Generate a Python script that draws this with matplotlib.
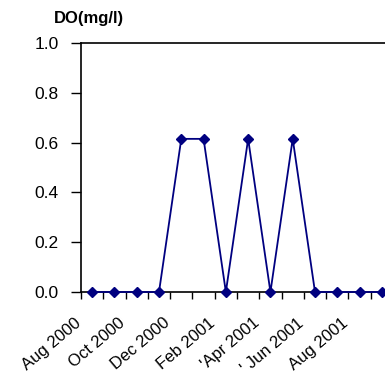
import matplotlib
matplotlib.use("Agg")
import matplotlib.pyplot as plt
import matplotlib.transforms as mtransforms
import numpy as np

plt.rcParams['font.family'] = ['Liberation Sans', 'DejaVu Sans']

values = [0, 0, 0, 0, 0.615, 0.615, 0, 0.615, 0, 0.615, 0, 0, 0, 0]
tick_labels = ["Aug 2000", "Oct 2000", "Dec 2000", "Feb 2001", "'Apr 2001", "' Jun 2001", "Aug 2001"]
y_ticks = [0.0, 0.2, 0.4, 0.6, 0.8, 1.0]

fig = plt.figure(figsize=(3.85, 3.75), dpi=100)
ax = fig.add_axes([81/385, 83/375, (393-81)/385, (292-43)/375])

x = np.arange(len(values)) + 0.5
ax.plot(x, values, color='#000080', lw=1.3, marker='D', markersize=5.5, clip_on=False, zorder=3)

ax.set_xlim(0, len(values))
ax.set_ylim(0, 1.0)
ax.set_xticks(np.arange(0, len(values) + 1))
ax.set_xticklabels([tick_labels[i // 2] if i % 2 == 0 and i // 2 < len(tick_labels) else '' for i in range(len(values) + 1)],
                   rotation=40, ha='right', va='top', rotation_mode='anchor', fontsize=12)
ax.set_yticks(y_ticks)
ax.set_yticklabels([f"{v:.1f}" for v in y_ticks], fontsize=12.5)
ax.tick_params(axis='y', direction='out', length=7, width=1, color='black', pad=9)
ax.tick_params(axis='x', direction='out', length=5, width=1, color='black', pad=11)
for s in ['left', 'bottom', 'top']:
    ax.spines[s].set_linewidth(1.2)
ax.spines['right'].set_visible(False)

offset = mtransforms.ScaledTranslation(-7/100, -1/100, fig.dpi_scale_trans)
for lab in ax.xaxis.get_majorticklabels():
    lab.set_transform(lab.get_transform() + offset)

fig.text(54/385, 1 - 19/375, "DO(mg/l)", fontsize=12, fontweight='bold', va='center', ha='left')

fig.savefig("out.png", dpi=100)
